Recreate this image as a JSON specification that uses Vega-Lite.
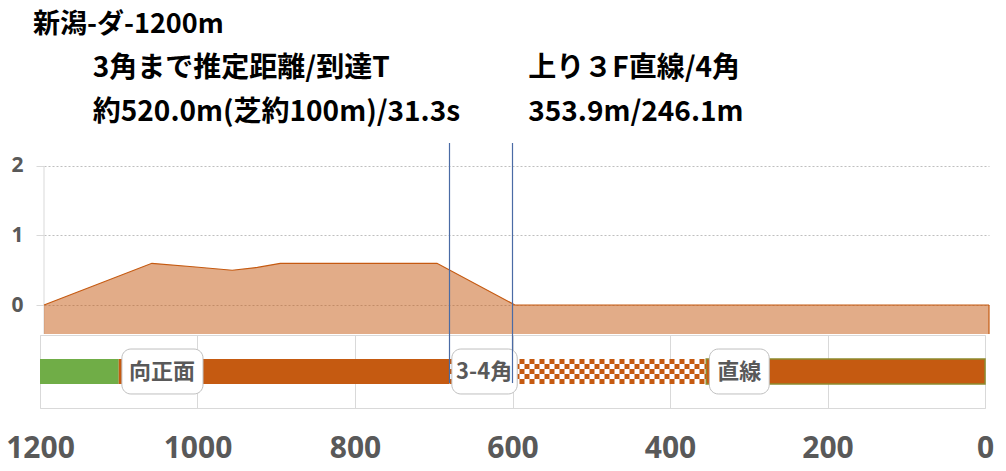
{
  "$schema": "https://vega.github.io/schema/vega-lite/v6.json",
  "padding": {"left": 5, "top": 10, "right": 5, "bottom": 5},
  "background": "white",
  "spacing": 1,
  "bounds": "flush",
  "config": {"view": {"stroke": "#D9D9D9"}, "font": "Noto Sans CJK JP"},
  "datasets": {
    "profile": [
      {"d": 1200, "elev": 0},
      {"d": 1063, "elev": 0.6},
      {"d": 1011, "elev": 0.55},
      {"d": 961, "elev": 0.5},
      {"d": 929, "elev": 0.54},
      {"d": 900, "elev": 0.6},
      {"d": 701, "elev": 0.6},
      {"d": 602, "elev": 0},
      {"d": 0, "elev": 0}
    ],
    "sections": [
      {"section": "芝", "from": 1200, "to": 1100},
      {"section": "向正面", "from": 1100, "to": 680},
      {"section": "3-4角", "from": 680, "to": 354},
      {"section": "直線", "from": 354, "to": 0}
    ],
    "labels": [
      {"label": "向正面", "lo": 1096, "hi": 993, "mid": 1045},
      {"label": "3-4角", "lo": 677, "hi": 594, "mid": 636},
      {"label": "直線", "lo": 350, "hi": 274, "mid": 312}
    ],
    "corners": [
      {"corner": "3角", "d": 680},
      {"corner": "4角", "d": 600}
    ]
  },
  "vconcat": [
    {
      "width": 949,
      "height": 191,
      "view": {"stroke": null},
      "layer": [
        {
          "data": {"values": [{}]},
          "mark": {"type": "rule", "color": "#D9D9D9", "strokeWidth": 1},
          "encoding": {
            "x": {"datum": 1200, "type": "quantitative", "scale": {"domain": [1200, 0], "range": [4, 949], "nice": false, "zero": false}, "axis": null},
            "y": {"datum": 2, "type": "quantitative", "scale": {"domain": [-0.417, 2.33], "nice": false, "zero": false},
              "axis": {"values": [0, 1, 2], "format": "d", "grid": true, "gridDash": [2, 2], "gridColor": "#BFBFBF", "domain": false, "tickSize": 8, "tickColor": "#D9D9D9", "labelFontSize": 21, "labelFontWeight": "bold", "labelColor": "#595959", "labelPadding": 13, "labelFont": "Noto Sans", "offset": -4, "title": null}},
            "y2": {"datum": -0.417}
          }
        },
        {
          "data": {"name": "profile"},
          "mark": {"type": "area", "color": "#C55A11", "fillOpacity": 0.5},
          "encoding": {
            "x": {"field": "d", "type": "quantitative"},
            "y": {"field": "elev", "type": "quantitative"},
            "y2": {"datum": -0.417}
          }
        },
        {
          "data": {"name": "profile"},
          "mark": {"type": "line", "color": "#C55A11", "strokeWidth": 1.2},
          "encoding": {
            "x": {"field": "d", "type": "quantitative"},
            "y": {"field": "elev", "type": "quantitative"}
          }
        },
        {
          "data": {"values": [{}]},
          "mark": {"type": "rule", "color": "#C55A11", "strokeWidth": 1.2},
          "encoding": {
            "x": {"datum": 0, "type": "quantitative"},
            "y": {"datum": 0, "type": "quantitative"},
            "y2": {"datum": -0.417}
          }
        },
        {
          "data": {"values": [{}]},
          "mark": {"type": "text", "text": "新潟-ダ-1200m", "align": "left", "baseline": "middle", "fontSize": 27, "fontWeight": "bold", "color": "#000000"},
          "encoding": {
            "x": {"datum": 1214, "type": "quantitative"},
            "y": {"datum": 4.028, "type": "quantitative"}
          }
        },
        {
          "data": {"values": [{}]},
          "mark": {"type": "text", "text": "3角まで推定距離/到達T", "align": "left", "baseline": "middle", "fontSize": 28, "fontWeight": "bold", "color": "#000000"},
          "encoding": {
            "x": {"datum": 1138, "type": "quantitative"},
            "y": {"datum": 3.395, "type": "quantitative"}
          }
        },
        {
          "data": {"values": [{}]},
          "mark": {"type": "text", "text": "約520.0m(芝約100m)/31.3s", "align": "left", "baseline": "middle", "fontSize": 28, "fontWeight": "bold", "color": "#000000"},
          "encoding": {
            "x": {"datum": 1138, "type": "quantitative"},
            "y": {"datum": 2.762, "type": "quantitative"}
          }
        },
        {
          "data": {"values": [{}]},
          "mark": {"type": "text", "text": "上り３F直線/4角", "align": "left", "baseline": "middle", "fontSize": 28, "fontWeight": "bold", "color": "#000000"},
          "encoding": {
            "x": {"datum": 585, "type": "quantitative"},
            "y": {"datum": 3.395, "type": "quantitative"}
          }
        },
        {
          "data": {"values": [{}]},
          "mark": {"type": "text", "text": "353.9m/246.1m", "align": "left", "baseline": "middle", "fontSize": 28, "fontWeight": "bold", "color": "#000000"},
          "encoding": {
            "x": {"datum": 585, "type": "quantitative"},
            "y": {"datum": 2.762, "type": "quantitative"}
          }
        }
      ]
    },
    {
      "width": 945,
      "height": 73,
      "layer": [
        {
          "data": {"name": "sections"},
          "mark": {"type": "rect", "strokeWidth": 1.5},
          "encoding": {
            "x": {"field": "from", "type": "quantitative", "scale": {"domain": [1200, 0], "nice": false, "zero": false},
              "axis": {"values": [1200, 1000, 800, 600, 400, 200, 0], "format": "d", "grid": true, "gridColor": "#D9D9D9", "domain": false, "ticks": false, "labelFontSize": 30, "labelFontWeight": "bold", "labelColor": "#595959", "labelFont": "Noto Sans", "labelPadding": 25, "labelFlush": false, "labelOverlap": false, "title": null}},
            "x2": {"field": "to"},
            "y": {"datum": 0.329, "type": "quantitative", "scale": {"domain": [0, 1], "nice": false, "zero": false}, "axis": null},
            "y2": {"datum": 0.671},
            "fill": {"field": "section", "type": "nominal", "scale": {"domain": ["芝", "向正面", "3-4角", "直線"], "range": ["#70AD47", "#C55A11", "#FFFFFF", "#C55A11"]}, "legend": null},
            "stroke": {"condition": {"test": "datum.section === '直線'", "value": "#8D8A2E"}, "value": "transparent"}
          }
        },
        {
          "data": {"name": "sections"},
          "transform": [{"filter": "datum.section === '3-4角'"}],
          "mark": {"type": "rule", "color": "#C55A11", "strokeWidth": 5, "strokeDash": [5, 5], "strokeDashOffset": 0},
          "encoding": {"x": {"field": "from", "type": "quantitative"}, "x2": {"field": "to"}, "y": {"datum": 0.637, "type": "quantitative"}}
        },
        {
          "data": {"name": "sections"},
          "transform": [{"filter": "datum.section === '3-4角'"}],
          "mark": {"type": "rule", "color": "#C55A11", "strokeWidth": 5, "strokeDash": [5, 5], "strokeDashOffset": 5},
          "encoding": {"x": {"field": "from", "type": "quantitative"}, "x2": {"field": "to"}, "y": {"datum": 0.568, "type": "quantitative"}}
        },
        {
          "data": {"name": "sections"},
          "transform": [{"filter": "datum.section === '3-4角'"}],
          "mark": {"type": "rule", "color": "#C55A11", "strokeWidth": 5, "strokeDash": [5, 5], "strokeDashOffset": 0},
          "encoding": {"x": {"field": "from", "type": "quantitative"}, "x2": {"field": "to"}, "y": {"datum": 0.5, "type": "quantitative"}}
        },
        {
          "data": {"name": "sections"},
          "transform": [{"filter": "datum.section === '3-4角'"}],
          "mark": {"type": "rule", "color": "#C55A11", "strokeWidth": 5, "strokeDash": [5, 5], "strokeDashOffset": 5},
          "encoding": {"x": {"field": "from", "type": "quantitative"}, "x2": {"field": "to"}, "y": {"datum": 0.432, "type": "quantitative"}}
        },
        {
          "data": {"name": "sections"},
          "transform": [{"filter": "datum.section === '3-4角'"}],
          "mark": {"type": "rule", "color": "#C55A11", "strokeWidth": 5, "strokeDash": [5, 5], "strokeDashOffset": 0},
          "encoding": {"x": {"field": "from", "type": "quantitative"}, "x2": {"field": "to"}, "y": {"datum": 0.363, "type": "quantitative"}}
        },
        {
          "data": {"name": "labels"},
          "mark": {"type": "rect", "fill": "#FFFFFF", "stroke": "#BFBFBF", "strokeWidth": 1, "cornerRadius": 9},
          "encoding": {
            "x": {"field": "lo", "type": "quantitative"},
            "x2": {"field": "hi"},
            "y": {"datum": 0.192, "type": "quantitative"},
            "y2": {"datum": 0.808}
          }
        },
        {
          "data": {"name": "labels"},
          "mark": {"type": "text", "fontSize": 22, "fontWeight": "bold", "color": "#595959", "baseline": "middle", "align": "center"},
          "encoding": {
            "x": {"field": "mid", "type": "quantitative"},
            "y": {"datum": 0.5, "type": "quantitative"},
            "text": {"field": "label"}
          }
        },
        {
          "data": {"name": "corners"},
          "mark": {"type": "rule", "color": "#4A6BA5", "strokeWidth": 1.2},
          "encoding": {
            "x": {"field": "d", "type": "quantitative"},
            "y": {"datum": 0.342, "type": "quantitative"},
            "y2": {"datum": 3.63}
          }
        }
      ]
    }
  ],
  "resolve": {"scale": {"x": "independent", "y": "independent"}}
}
